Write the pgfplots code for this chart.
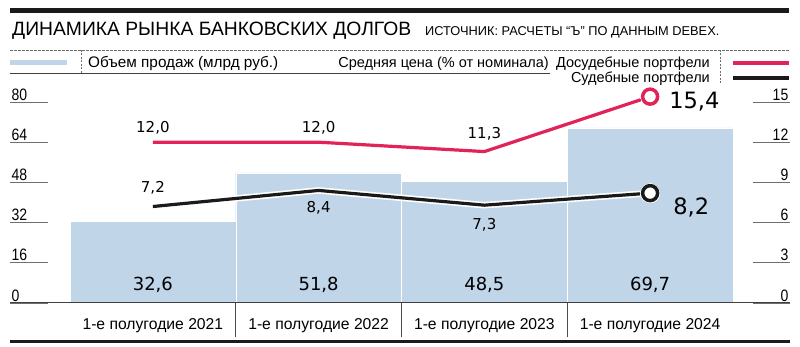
\documentclass[border=0pt]{standalone}
\usepackage{fontspec}
\setmainfont{Liberation Sans}
\newfontfamily\nar[FakeStretch=0.85]{Liberation Sans}
\newfontfamily\num{DejaVu Sans}
\usepackage{pgfplots}
\pgfplotsset{compat=1.18}
\definecolor{barblue}{RGB}{193,213,233}
\definecolor{pred}{RGB}{226,35,88}
\definecolor{pblk}{RGB}{26,26,26}
\definecolor{tickgray}{RGB}{110,110,110}
\begin{document}
\begin{tikzpicture}[x=1pt,y=1pt]
\path[use as bounding box] (0,0) rectangle (800,347);
% header
\fill[pblk] (10,334) rectangle (789,339);
\node[anchor=base west, inner sep=0, font=\fontsize{19.3}{20}\selectfont] at (12,311) {ДИНАМИКА РЫНКА БАНКОВСКИХ ДОЛГОВ};
\node[anchor=base west, inner sep=0, font=\fontsize{12.8}{14}\selectfont] at (425,311) {ИСТОЧНИК: РАСЧЕТЫ “Ъ” ПО ДАННЫМ DEBEX.};
% legend
\draw[tickgray, dash pattern=on 2.5pt off 1.5pt, line width=0.6pt] (10,297) -- (790,297);
\fill[barblue] (10,281.5) rectangle (67,286.5);
\draw[tickgray, dash pattern=on 2pt off 1.5pt, line width=0.6pt] (81,297) -- (81,274);
\draw[tickgray, dash pattern=on 2pt off 1.5pt, line width=0.6pt] (720,297) -- (720,262);
\draw[black!75, line width=0.8pt] (10,274) -- (550,274);
\node[anchor=base west, inner sep=0, font=\fontsize{15.3}{15}\selectfont] at (88,279.5) {Объем продаж (млрд руб.)};
\node[anchor=base east, inner sep=0, font=\fontsize{14.5}{15}\selectfont] at (549,279.5) {Средняя цена (\% от номинала)};
\node[anchor=base east, inner sep=0, font=\fontsize{14.5}{15}\selectfont] at (710,279.5) {Досудебные портфели};
\node[anchor=base east, inner sep=0, font=\fontsize{14.5}{15}\selectfont] at (710,264) {Судебные портфели};
\draw[pred, line width=4pt] (733,283.7) -- (789,283.7);
\draw[pblk, line width=4pt] (733,269) -- (789,269);
% bottom line
\draw[pblk, line width=3pt] (10,5.5) -- (790,5.5);

\begin{axis}[at={(10pt,44pt)}, anchor=south west, scale only axis,
  width=780pt, height=201pt,
  xmin=-0.862, xmax=3.844, ymin=0, ymax=80,
  axis line style={draw=none}, xtick=\empty,
  ytick={0,16,32,48,64,80}, ytick pos=left, tick align=inside,
  major tick length=38pt,
  y tick style={draw=tickgray, line width=0.7pt},
  yticklabel style={anchor=south west, inner sep=1.5pt, font=\nar\fontsize{16.5}{16.5}\selectfont},
  /pgf/number format/assume math mode=true,
  clip=false]
\addplot[ybar, bar width=1, fill=barblue, draw=white, line width=0.4pt]
  coordinates {(0,32.6)(1,51.8)(2,48.5)(3,69.7)};
\draw[black!75, line width=1pt] (rel axis cs:0,0) -- (rel axis cs:1,0);
\node[anchor=base, inner sep=0, font=\num\fontsize{18}{18}\selectfont] at (axis cs:0,0) [yshift=12pt] {32,6};
\node[anchor=base, inner sep=0, font=\num\fontsize{18}{18}\selectfont] at (axis cs:1,0) [yshift=12pt] {51,8};
\node[anchor=base, inner sep=0, font=\num\fontsize{18}{18}\selectfont] at (axis cs:2,0) [yshift=12pt] {48,5};
\node[anchor=base, inner sep=0, font=\num\fontsize{18}{18}\selectfont] at (axis cs:3,0) [yshift=12pt] {69,7};
\node[anchor=base, inner sep=0, font=\fontsize{15.7}{16}\selectfont] at (axis cs:0,0) [yshift=-27pt] {1-е полугодие 2021};
\node[anchor=base, inner sep=0, font=\fontsize{15.7}{16}\selectfont] at (axis cs:1,0) [yshift=-27pt] {1-е полугодие 2022};
\node[anchor=base, inner sep=0, font=\fontsize{15.7}{16}\selectfont] at (axis cs:2,0) [yshift=-27pt] {1-е полугодие 2023};
\node[anchor=base, inner sep=0, font=\fontsize{15.7}{16}\selectfont] at (axis cs:3,0) [yshift=-27pt] {1-е полугодие 2024};
\draw[black!70, line width=0.7pt] (axis cs:0.5,0) -- ++(0pt,-34pt);
\draw[black!70, line width=0.7pt] (axis cs:1.5,0) -- ++(0pt,-34pt);
\draw[black!70, line width=0.7pt] (axis cs:2.5,0) -- ++(0pt,-34pt);
\end{axis}

\begin{axis}[at={(10pt,44pt)}, anchor=south west, scale only axis,
  width=780pt, height=201pt,
  xmin=-0.862, xmax=3.844, ymin=0, ymax=15,
  axis line style={draw=none}, xtick=\empty,
  ytick={0,3,6,9,12,15}, ytick pos=right, yticklabel pos=right, tick align=inside,
  major tick length=37pt,
  y tick style={draw=tickgray, line width=0.7pt},
  yticklabel style={anchor=south east, inner sep=1.5pt, font=\nar\fontsize{16.5}{16.5}\selectfont},
  /pgf/number format/assume math mode=true,
  clip=false]
% black line (court portfolios)
\addplot[white, line width=6.5pt, line join=round, mark=*, mark indices={4}, mark size=9.5pt, mark options={fill=white, draw=white, line width=0pt}]
  coordinates {(0,7.2)(1,8.4)(2,7.3)(3,8.2)};
\addplot[pblk, line width=3.2pt, line join=round, mark=*, mark indices={4}, mark size=7.5pt, mark options={fill=white, draw=pblk, line width=3.5pt, solid}]
  coordinates {(0,7.2)(1,8.4)(2,7.3)(3,8.2)};
% red line (pre-court portfolios)
\addplot[white, line width=6.5pt, line join=round, mark=*, mark indices={4}, mark size=9.5pt, mark options={fill=white, draw=white, line width=0pt}]
  coordinates {(0,12.0)(1,12.0)(2,11.3)(3,15.4)};
\addplot[pred, line width=3.2pt, line join=round, mark=*, mark indices={4}, mark size=7.5pt, mark options={fill=white, draw=pred, line width=3.5pt, solid}]
  coordinates {(0,12.0)(1,12.0)(2,11.3)(3,15.4)};
% labels
\node[anchor=south, inner sep=0, font=\num\fontsize{15}{15}\selectfont] at (axis cs:0,12.0) [yshift=8pt] {12,0};
\node[anchor=south, inner sep=0, font=\num\fontsize{15}{15}\selectfont] at (axis cs:1,12.0) [yshift=8pt] {12,0};
\node[anchor=south, inner sep=0, font=\num\fontsize{15}{15}\selectfont] at (axis cs:2,11.3) [yshift=11pt] {11,3};
\node[anchor=west, inner sep=0, font=\num\fontsize{22.5}{24}\selectfont] at (axis cs:3,15.4) [xshift=19pt, yshift=-5pt] {15,4};
\node[anchor=south, inner sep=0, font=\num\fontsize{15}{15}\selectfont] at (axis cs:0,7.2) [yshift=12pt] {7,2};
\node[anchor=north, inner sep=0, font=\num\fontsize{15}{15}\selectfont] at (axis cs:1,8.4) [yshift=-11pt] {8,4};
\node[anchor=north, inner sep=0, font=\num\fontsize{15}{15}\selectfont] at (axis cs:2,7.3) [yshift=-13pt] {7,3};
\node[anchor=west, inner sep=0, font=\num\fontsize{22.5}{24}\selectfont] at (axis cs:3,8.2) [xshift=23pt, yshift=-14pt] {8,2};
\end{axis}
\end{tikzpicture}
\end{document}
